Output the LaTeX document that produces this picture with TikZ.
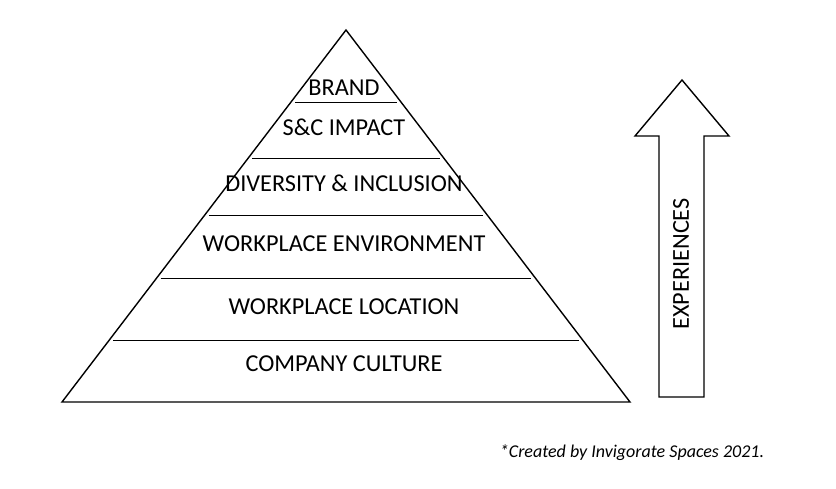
\documentclass[tikz,border=0pt]{standalone}
\usepackage{fontspec}
\setmainfont{Carlito}
\usetikzlibrary{calc}

\begin{document}
\begin{tikzpicture}[
    x=1pt, y=-1pt,
    level/.style={
        font=\fontsize{24.3}{28}\selectfont,
        inner sep=0pt
    },
    divider/.style={
        line width=1pt,
        shorten >=4pt,
        shorten <=4pt
    },
    outline/.style={
        line width=1.4pt,
        line join=miter
    }
]

\useasboundingbox (0,0) rectangle (836,488);

% pyramid
\coordinate (apex) at (346,30);
\coordinate (bl) at (62,402);
\coordinate (br) at (630,402);
\draw[outline] (apex) -- (bl) -- (br) -- cycle;

\foreach \y in {102,158,215,278,340} {
    \pgfmathsetmacro{\t}{(\y-30)/372}
    \draw[divider] ($(apex)!\t!(bl)$) -- ($(apex)!\t!(br)$);
}

\node[level] (brand) at (344,88) {BRAND};
\node[level] (impact) at (344,127) {S\&C IMPACT};
\node[level] (diversity) at (344,183) {DIVERSITY \& INCLUSION};
\node[level] (environment) at (344,244) {WORKPLACE ENVIRONMENT};
\node[level] (location) at (344,307) {WORKPLACE LOCATION};
\node[level] (culture) at (344,364) {COMPANY CULTURE};

% arrow
\draw[outline] (682,80) -- (729,136) -- (704,136) -- (704,397)
    -- (659,397) -- (659,136) -- (635,136) -- cycle;
\node[level, rotate=90] (experiences) at (681,264) {EXPERIENCES};

\node[font=\fontsize{18}{21}\selectfont\itshape, inner sep=0pt] (credit)
    at (632,453) {*Created by Invigorate Spaces 2021.};

\end{tikzpicture}
\end{document}
